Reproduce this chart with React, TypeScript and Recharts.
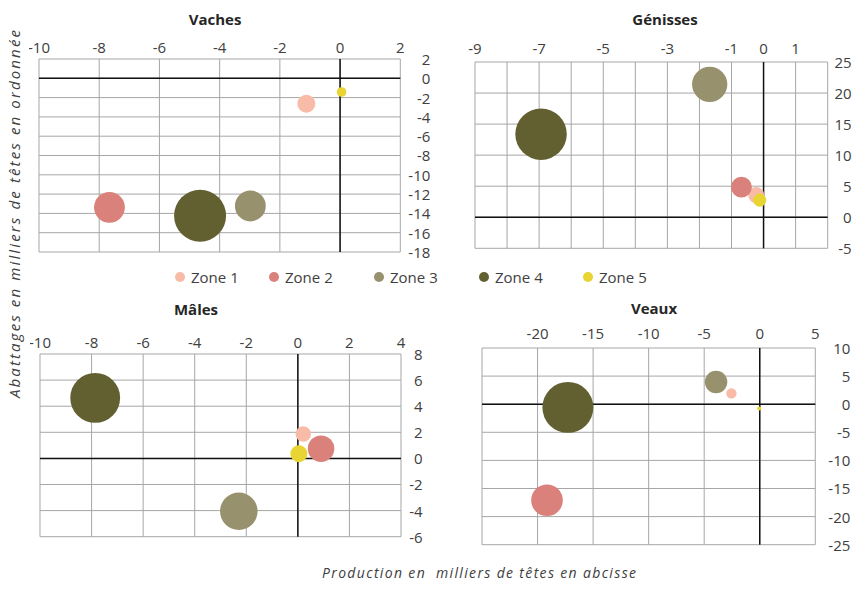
import { ScatterChart, Scatter, XAxis, YAxis, ZAxis, CartesianGrid, ReferenceLine } from 'recharts';

const zones = ['Zone 1', 'Zone 2', 'Zone 3', 'Zone 4', 'Zone 5'];
const zoneColors = ['#f8bba8', '#d9817a', '#97916e', '#626030', '#e8d433'];

// Vaches
const vachesX = [-1.12, -7.66, -2.98, -4.65, 0.05];
const vachesY = [-2.63, -13.37, -13.23, -14.24, -1.42];
const vachesSize = [13, 38, 38, 108, 3.7];
const vachesXTicks = [-10, -8, -6, -4, -2, 0, 2];
const vachesYTicks = [-18, -16, -14, -12, -10, -8, -6, -4, -2, 0, 2];

// Génisses
const genissesX = [-0.23, -0.69, -1.68, -6.94, -0.12];
const genissesY = [3.57, 4.85, 21.4, 13.38, 2.76];
const genissesSize = [9.5, 16, 46, 98, 6.3];
const genissesXTicks = [-9, -8, -7, -6, -5, -4, -3, -2, -1, 0, 1, 2];
const genissesXLabels = [-9, -7, -5, -3, -1, 0, 1];
const genissesYTicks = [-5, 0, 5, 10, 15, 20, 25];

// Mâles
const malesX = [0.21, 0.9, -2.29, -7.86, 0.04];
const malesY = [1.87, 0.74, -4.05, 4.64, 0.35];
const malesSize = [8.8, 26, 52, 92, 10.7];
const malesXTicks = [-10, -8, -6, -4, -2, 0, 2, 4];
const malesYTicks = [-6, -4, -2, 0, 2, 4, 6, 8];

// Veaux
const veauxX = [-2.55, -19.15, -3.93, -17.27, -0.05];
const veauxY = [1.92, -17.1, 3.95, -0.57, -0.75];
const veauxSize = [4, 37, 18.6, 96, 0.6];
const veauxXTicks = [-25, -20, -15, -10, -5, 0, 5];
const veauxXLabels = [-20, -15, -10, -5, 0, 5];
const veauxYTicks = [-25, -20, -15, -10, -5, 0, 5, 10];

const FONT = "'Open Sans', Lato, sans-serif";
const TICK_COLOR = '#404040';

type PanelProps = {
    plot: { x0: number; y0: number; x1: number; y1: number };
    xTicks: number[];
    xLabels?: number[];
    yTicks: number[];
    xs: number[];
    ys: number[];
    sizes: number[];
    xGap: number;
    yEnd: number;
};

function Panel({ plot, xTicks, xLabels, yTicks, xs, ys, sizes, xGap, yEnd }: PanelProps) {
    const w = plot.x1 - plot.x0 + 60;
    const h = plot.y1 - plot.y0 + 50;
    const shown = xLabels ?? xTicks;
    const plotRight = w - 50;

    const xTick = (props: any) => {
        const { x, payload } = props;
        if (!shown.includes(payload.value)) return <g />;
        return (
            <text x={x} y={40 - xGap} textAnchor="middle" dominantBaseline="central"
                fontSize={15} fontFamily={FONT} fill={TICK_COLOR}>
                {payload.value}
            </text>
        );
    };

    const yTick = (props: any) => {
        const { y, payload } = props;
        return (
            <text x={plotRight + yEnd} y={y} textAnchor="end" dominantBaseline="central"
                fontSize={15} fontFamily={FONT} fill={TICK_COLOR}>
                {payload.value}
            </text>
        );
    };

    return (
        <div style={{ position: 'absolute', left: plot.x0 - 10, top: plot.y0 - 40 }}>
            <ScatterChart width={w} height={h} margin={{ top: 20, right: 10, bottom: 10, left: 10 }}>
                <CartesianGrid stroke="#a6a6a6" strokeWidth={1} />
                <XAxis
                    type="number"
                    dataKey="x"
                    orientation="top"
                    height={20}
                    domain={[xTicks[0], xTicks[xTicks.length - 1]]}
                    ticks={xTicks}
                    interval={0}
                    allowDataOverflow
                    axisLine={false}
                    tickLine={false}
                    tick={xTick}
                />
                <YAxis
                    type="number"
                    dataKey="y"
                    orientation="right"
                    width={40}
                    domain={[yTicks[0], yTicks[yTicks.length - 1]]}
                    ticks={yTicks}
                    interval={0}
                    allowDataOverflow
                    axisLine={false}
                    tickLine={false}
                    tick={yTick}
                />
                <ZAxis type="number" dataKey="z" domain={[0, 100]} range={[0, 2124]} />
                <ReferenceLine x={0} stroke="#111" strokeWidth={1.5} />
                <ReferenceLine y={0} stroke="#111" strokeWidth={1.5} />
                {zones.map((name, i) => (
                    <Scatter
                        key={name}
                        name={name}
                        data={[{ x: xs[i], y: ys[i], z: sizes[i] }]}
                        fill={zoneColors[i]}
                        isAnimationActive={false}
                    />
                ))}
            </ScatterChart>
        </div>
    );
}

const legendX = [180, 274, 379, 484, 588];

export default function App() {
    return (
        <div style={{ position: 'absolute', left: 0, top: 0, width: 855, height: 589, background: '#fff' }}>
            <svg width={855} height={589} style={{ position: 'absolute', left: 0, top: 0 }}>
                <g fontFamily={FONT} fontWeight="bold" fontSize={15} fill="#262626" textAnchor="middle">
                    <text x={215} y={25}>Vaches</text>
                    <text x={665} y={25}>Génisses</text>
                    <text x={196} y={315}>Mâles</text>
                    <text x={654} y={314}>Veaux</text>
                </g>
                {zones.map((name, i) => (
                    <g key={name}>
                        <circle cx={legendX[i]} cy={277} r={5} fill={zoneColors[i]} />
                        <text x={legendX[i] + 11} y={277} dominantBaseline="central" fontSize={15}
                            fontFamily={FONT} fill={TICK_COLOR}>{name}</text>
                    </g>
                ))}
                <text transform="translate(14,214) rotate(-90)" textAnchor="middle" dominantBaseline="central"
                    fontSize={15} fontStyle="italic" fontFamily={FONT} fill={TICK_COLOR}
                    textLength={368} lengthAdjust="spacing">
                    Abattages en milliers de têtes en ordonnée
                </text>
                <text x={479} y={572} textAnchor="middle" dominantBaseline="central" style={{ whiteSpace: 'pre' }}
                    fontSize={14} fontStyle="italic" fontFamily={FONT} fill={TICK_COLOR}
                    textLength={314} lengthAdjust="spacing">
                    {'Production en  milliers de têtes en abcisse'}
                </text>
            </svg>
            <Panel plot={{ x0: 38.7, y0: 59, x1: 400, y1: 252 }} xTicks={vachesXTicks} yTicks={vachesYTicks}
                xs={vachesX} ys={vachesY} sizes={vachesSize} xGap={12} yEnd={30} />
            <Panel plot={{ x0: 475, y0: 62, x1: 827.7, y1: 248.3 }} xTicks={genissesXTicks} xLabels={genissesXLabels}
                yTicks={genissesYTicks} xs={genissesX} ys={genissesY} sizes={genissesSize} xGap={14} yEnd={24} />
            <Panel plot={{ x0: 40, y0: 354.3, x1: 401, y1: 537 }} xTicks={malesXTicks} yTicks={malesYTicks}
                xs={malesX} ys={malesY} sizes={malesSize} xGap={11.6} yEnd={21.7} />
            <Panel plot={{ x0: 481.7, y0: 348.3, x1: 815, y1: 545 }} xTicks={veauxXTicks} xLabels={veauxXLabels}
                yTicks={veauxYTicks} xs={veauxX} ys={veauxY} sizes={veauxSize} xGap={15} yEnd={35} />
        </div>
    );
}
